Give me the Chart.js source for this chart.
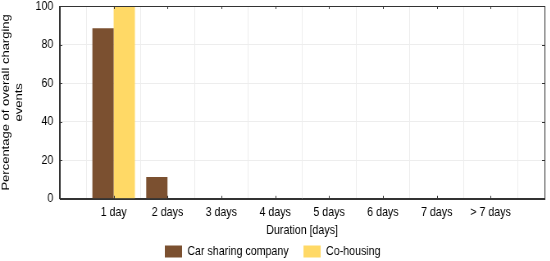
<!DOCTYPE html>
<html>
<head>
<meta charset="utf-8">
<script src="https://cdn.jsdelivr.net/npm/chart.js@4"></script>
<style>
  html, body { margin: 0; padding: 0; background: #fff; overflow: hidden; }
  /* the original figure is squeezed horizontally, so draw wider and squeeze */
  #wrap { width: 670px; height: 261px; transform: scaleX(0.82); transform-origin: 0 0; }
</style>
</head>
<body>
<div id="wrap"><canvas id="chart" width="670" height="261"></canvas></div>
<script>
// blank slots at both ends give the half-category margin seen in the original
const durations = ["", "1 day", "2 days", "3 days", "4 days", "5 days", "6 days", "7 days", "> 7 days", ""];
const carSharing = [null, 88.5, 11.3, 0, 0, 0, 0, 0, 0.3, null];
const coHousing = [null, 100, 0, 0, 0, 0, 0, 0, 0, null];
const yTicks = [0, 20, 40, 60, 80, 100];

Chart.defaults.font.family = "'Liberation Sans', Arial, sans-serif";
Chart.defaults.font.size = 13;
Chart.defaults.color = "#000";

// box round the plot, with short inward ticks like the original
const frame = {
  id: "frame",
  afterDraw(chart) {
    const a = chart.chartArea, ctx = chart.ctx;
    const x = chart.scales.x, y = chart.scales.y;
    ctx.save();
    ctx.strokeStyle = "#333";
    ctx.lineWidth = 1;
    ctx.strokeRect(Math.round(a.left) + 0.5, Math.round(a.top) + 0.5,
      Math.round(a.right - a.left), Math.round(a.bottom - a.top));
    ctx.beginPath();
    x.ticks.forEach((t, i) => {
      const px = Math.round(x.getPixelForTick(i)) + 0.5;
      ctx.moveTo(px, a.bottom); ctx.lineTo(px, a.bottom - 3);
      ctx.moveTo(px, a.top); ctx.lineTo(px, a.top + 3);
    });
    y.ticks.forEach((t, i) => {
      const py = Math.round(y.getPixelForTick(i)) + 0.5;
      ctx.moveTo(a.left, py); ctx.lineTo(a.left + 3, py);
      ctx.moveTo(a.right, py); ctx.lineTo(a.right - 3, py);
    });
    ctx.stroke();
    ctx.restore();
  }
};

new Chart(document.getElementById("chart"), {
  type: "bar",
  data: {
    labels: durations,
    datasets: [
      { label: "Car sharing company", data: carSharing, backgroundColor: "#7b5030" },
      { label: "Co-housing", data: coHousing, backgroundColor: "#ffd966" }
    ]
  },
  options: {
    responsive: false,
    animation: false,
    layout: { padding: { top: 6, right: 5, left: 0, bottom: 0 } },
    datasets: { bar: { barPercentage: 1, categoryPercentage: 0.79 } },
    scales: {
      x: {
        offset: false,
        grid: { color: "#ededed", drawTicks: false },
        border: { color: "#333" },
        ticks: { padding: 6, maxRotation: 0, autoSkip: false },
        title: { display: true, text: "Duration [days]", padding: { top: -4, bottom: -11 } }
      },
      y: {
        min: 0,
        max: 100,
        afterBuildTicks: axis => { axis.ticks = yTicks.map(v => ({ value: v })); },
        afterFit: axis => { axis.paddingTop = 0; },
        grid: { color: "#ededed", drawTicks: false },
        border: { color: "#333" },
        ticks: { padding: 8 },
        title: {
          display: true,
          text: ["Percentage of overall charging", "events"],
          padding: { top: 0, bottom: 4 }
        }
      }
    },
    plugins: {
      legend: {
        position: "bottom",
        maxHeight: 34,
        labels: { boxWidth: 21, boxHeight: 12, padding: 18 }
      },
      tooltip: { enabled: false }
    }
  },
  plugins: [frame]
});
</script>
</body>
</html>
